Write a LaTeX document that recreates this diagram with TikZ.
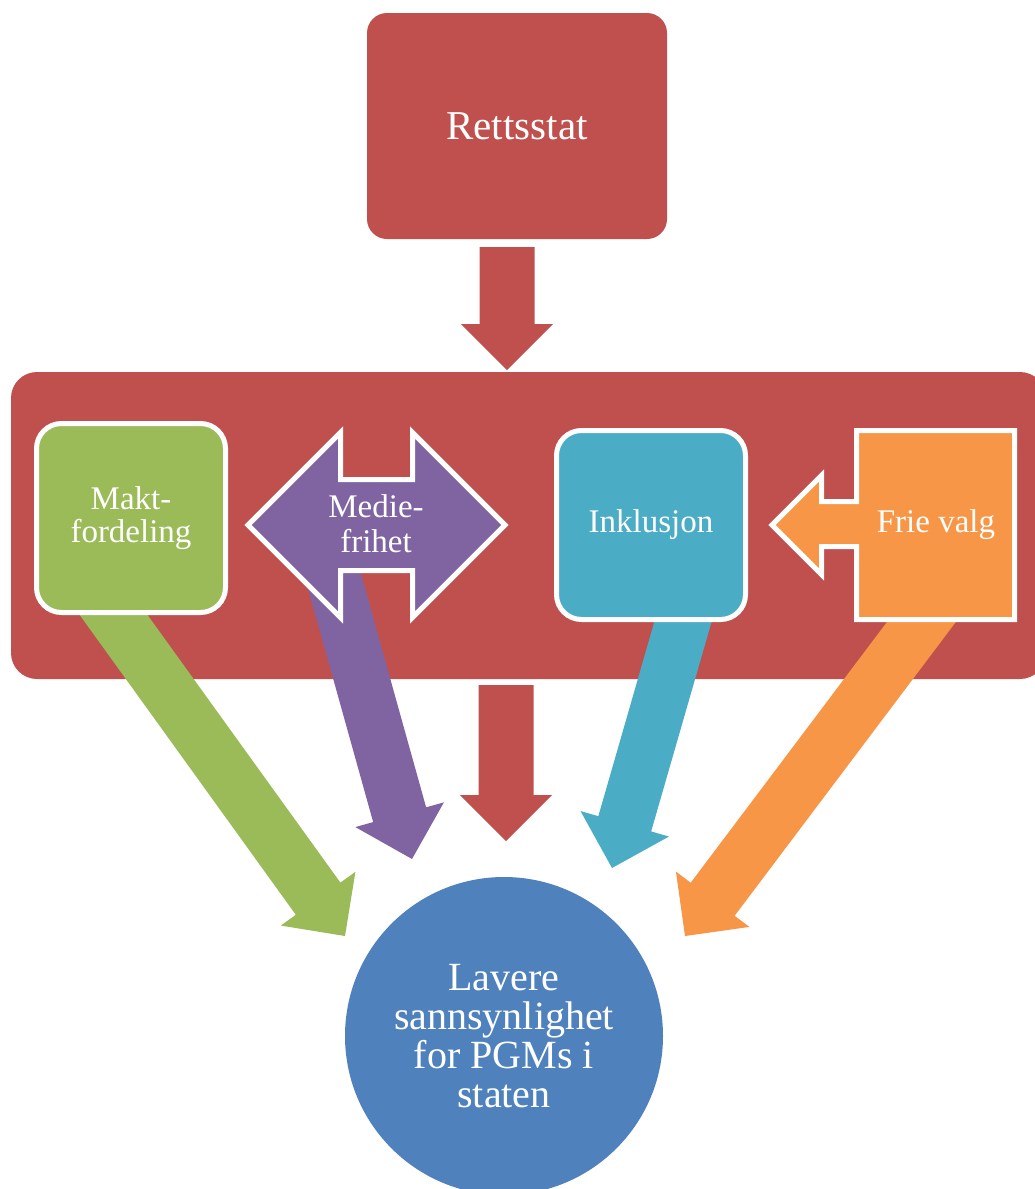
\documentclass[tikz,border=0pt]{standalone}
\usepackage{fontspec}
\setmainfont{Liberation Serif}
\usetikzlibrary{calc}
\definecolor{cred}{HTML}{C0504D}
\definecolor{cgreen}{HTML}{9BBB59}
\definecolor{cpurple}{HTML}{8064A2}
\definecolor{ccyan}{HTML}{4BACC6}
\definecolor{corange}{HTML}{F79646}
\definecolor{cblue}{HTML}{4F81BD}
% block arrow: colour, start coordinate, tip coordinate
\newcommand\blockarrow[3]{%
  \path ($(#3)!46pt!(#2)$) coordinate (hb);
  \fill[#1] ($(#2)!27.5pt!90:(#3)$) -- ($(hb)!27.5pt!-90:(#2)$) -- ($(hb)!46pt!-90:(#2)$)
    -- (#3) -- ($(hb)!46pt!90:(#2)$) -- ($(hb)!27.5pt!90:(#2)$) -- ($(#2)!27.5pt!-90:(#3)$) -- cycle;
}
\begin{document}
\begin{tikzpicture}[x=1pt,y=-1pt,
  smallfont/.style={font=\fontsize{33}{33}\selectfont},
  innerbox/.style={rounded corners=25pt, draw=white, line width=5pt, minimum width=189pt,
     minimum height=189pt, inner sep=0pt, text=white, align=center, smallfont},
  outline/.style={draw=white, line width=5pt, miter limit=10},
  label/.style={text=white, align=center, inner sep=0pt, smallfont}]
\clip (0,0) rectangle (1035,1189);
% stage background
\node[fill=cred, rounded corners=26pt, minimum width=1035pt, minimum height=307pt, inner sep=0pt] (stage) at (528.5,525.5) {};
% top box
\node[fill=cred, rounded corners=20pt, minimum width=300pt, minimum height=226pt, inner sep=0pt,
      text=white, font=\fontsize{41}{41}\selectfont] (rett) at (517,126) {Rettsstat};
% arrow coordinates
\coordinate (a0s) at (507,247);  \coordinate (a0t) at (507,370);
\coordinate (ags) at (74,560);   \coordinate (agt) at (345,936);
\coordinate (aps) at (323,540);  \coordinate (apt) at (412,859);
\coordinate (ars) at (506,685);  \coordinate (art) at (506,841);
\coordinate (acs) at (695,580);  \coordinate (act) at (612,868);
\coordinate (aos) at (953,580);  \coordinate (aot) at (685,936);
\blockarrow{cred}{a0s}{a0t}
\blockarrow{cgreen}{ags}{agt}
\blockarrow{cpurple}{aps}{apt}
\blockarrow{ccyan}{acs}{act}
\blockarrow{corange}{aos}{aot}
\blockarrow{cred}{ars}{art}
% inner shapes
\node[innerbox, fill=cgreen] (makt) at (131,518) {Makt-\\fordeling};
\fill[cpurple, outline] (248,525) -- (340.5,432.5) -- (340.5,479.5) -- (412.5,479.5) -- (412.5,432.5)
  -- (505,525) -- (412.5,617.5) -- (412.5,570.5) -- (340.5,570.5) -- (340.5,617.5) -- cycle;
\node[label, font=\fontsize{33}{35}\selectfont] (medie) at (376,524) {Medie-\\frihet};
\node[innerbox, fill=ccyan] (inkl) at (651,525) {Inklusjon};
\fill[corange, outline] (856.5,430.5) -- (1014.5,430.5) -- (1014.5,619.5) -- (856.5,619.5)
  -- (856.5,546.5) -- (821.5,546.5) -- (821.5,574.5) -- (772,525) -- (821.5,475.5)
  -- (821.5,501.5) -- (856.5,501.5) -- cycle;
\node[label] (frie) at (936,525) {Frie valg};
% result circle
\node[circle, fill=cblue, minimum size=318pt, inner sep=0pt, text=white, align=center,
      font=\fontsize{40}{39}\selectfont] (res) at (504,1036) {Lavere\\sannsynlighet\\for PGMs i\\staten};
\end{tikzpicture}
\end{document}
